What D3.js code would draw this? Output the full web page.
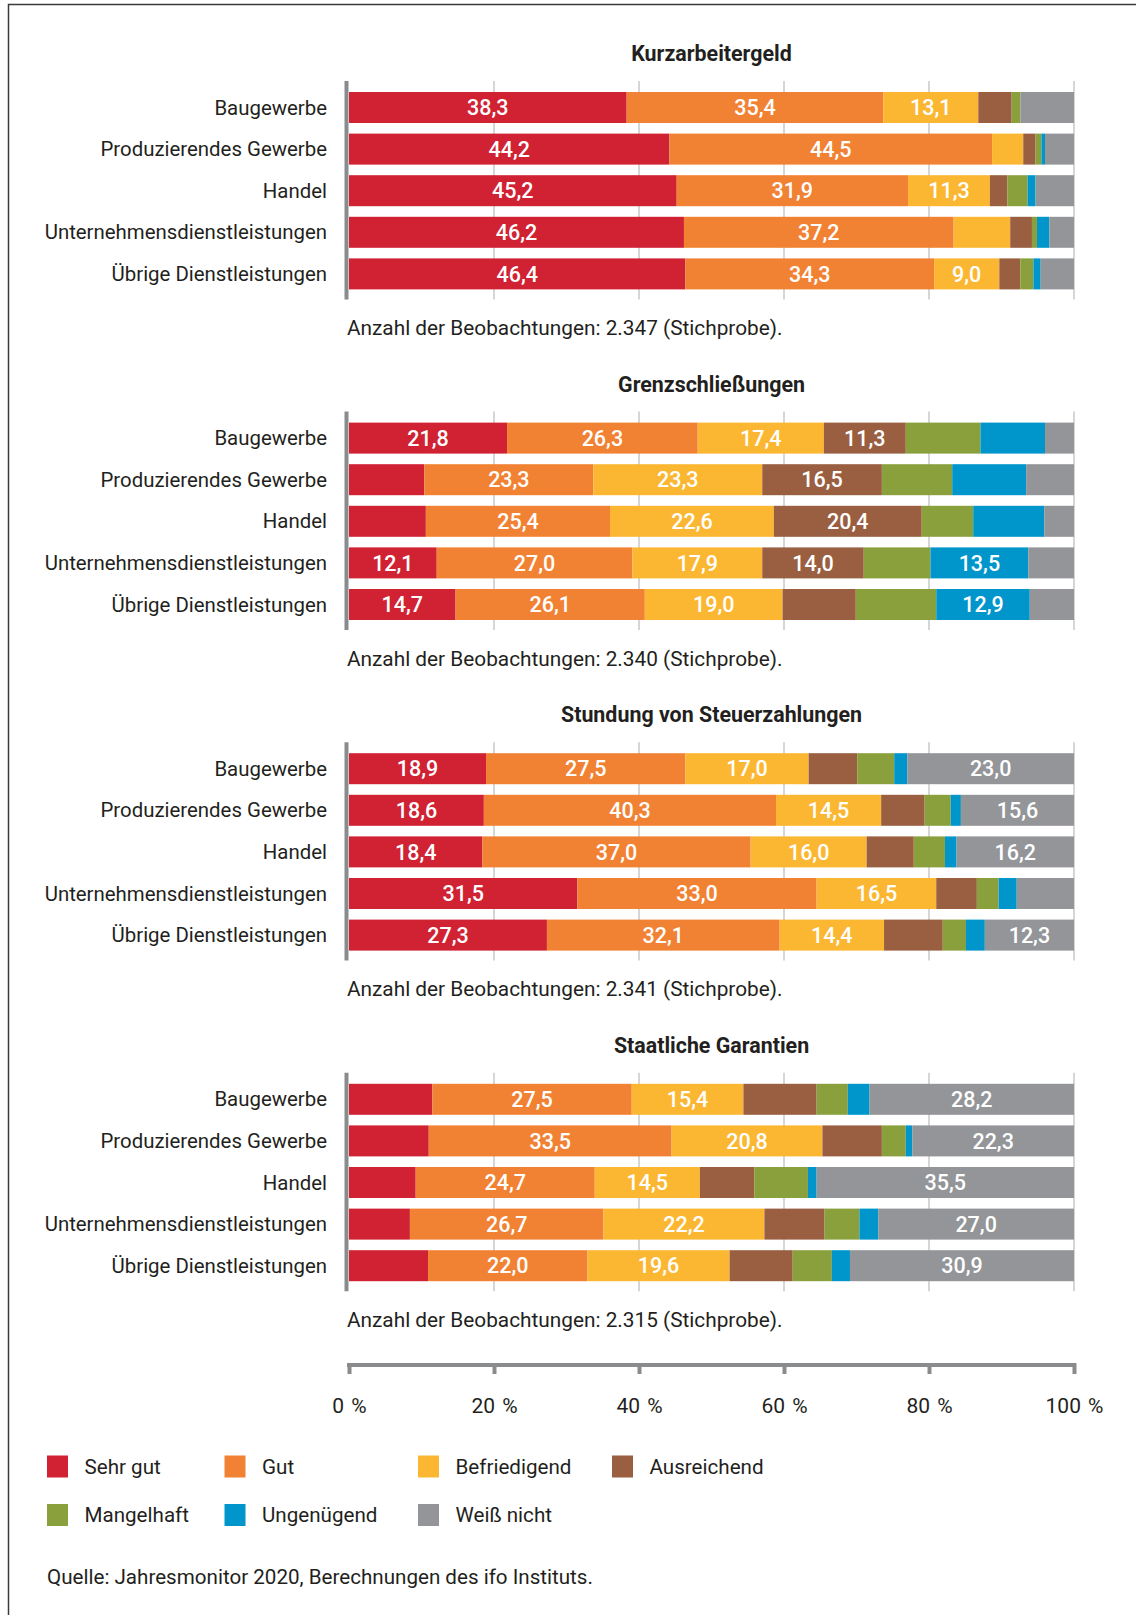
<!DOCTYPE html>
<html lang="de">
<head>
<meta charset="utf-8">
<script src="https://cdn.jsdelivr.net/npm/d3@7/dist/d3.min.js"></script>
<style>
  html, body { margin: 0; padding: 0; background: #fff; }
  svg { display: block; font-family: Roboto, "Noto Sans", sans-serif; }
</style>
</head>
<body>
<svg id="chart" width="1136" height="1615"></svg>
<script>
// ---- Data ---------------------------------------------------------------
const categories = [
  "Baugewerbe",
  "Produzierendes Gewerbe",
  "Handel",
  "Unternehmensdienstleistungen",
  "Übrige Dienstleistungen"
];
const ratings = ["Sehr gut", "Gut", "Befriedigend", "Ausreichend", "Mangelhaft", "Ungenügend", "Weiß nicht"];
const ratingColors = ["#d02233", "#f28233", "#fbb732", "#9a5f41", "#8aa03c", "#0096cc", "#939598"];

const panelTitles = ["Kurzarbeitergeld", "Grenzschließungen", "Stundung von Steuerzahlungen", "Staatliche Garantien"];
const panelObservations = ["2.347", "2.340", "2.341", "2.315"];

// Shares in percent per sector, in rating order
const kurzarbeitergeld = [
  [38.3, 35.4, 13.1, 4.6, 1.2, 0.0, 7.4],
  [44.2, 44.5, 4.3, 1.7, 0.8, 0.5, 4.0],
  [45.2, 31.9, 11.3, 2.4, 2.8, 1.1, 5.3],
  [46.2, 37.2, 7.8, 3.0, 0.7, 1.7, 3.4],
  [46.4, 34.3, 9.0, 2.9, 1.8, 1.0, 4.6]
];
const grenzschliessungen = [
  [21.8, 26.3, 17.4, 11.3, 10.3, 8.9, 4.0],
  [10.4, 23.3, 23.3, 16.5, 9.7, 10.2, 6.6],
  [10.6, 25.4, 22.6, 20.4, 7.1, 9.8, 4.1],
  [12.1, 27.0, 17.9, 14.0, 9.2, 13.5, 6.3],
  [14.7, 26.1, 19.0, 10.1, 11.1, 12.9, 6.1]
];
const stundung = [
  [18.9, 27.5, 17.0, 6.7, 5.1, 1.8, 23.0],
  [18.6, 40.3, 14.5, 6.0, 3.6, 1.4, 15.6],
  [18.4, 37.0, 16.0, 6.5, 4.3, 1.6, 16.2],
  [31.5, 33.0, 16.5, 5.6, 3.0, 2.5, 7.9],
  [27.3, 32.1, 14.4, 8.1, 3.2, 2.6, 12.3]
];
const garantien = [
  [11.5, 27.5, 15.4, 10.1, 4.3, 3.0, 28.2],
  [11.0, 33.5, 20.8, 8.2, 3.3, 0.9, 22.3],
  [9.2, 24.7, 14.5, 7.5, 7.4, 1.2, 35.5],
  [8.4, 26.7, 22.2, 8.3, 4.8, 2.6, 27.0],
  [10.9, 22.0, 19.6, 8.7, 5.4, 2.5, 30.9]
];

// Which segments carry a printed value (1 = labelled)
const kurzarbeitergeldLabels = [
  [1, 1, 1, 0, 0, 0, 0],
  [1, 1, 0, 0, 0, 0, 0],
  [1, 1, 1, 0, 0, 0, 0],
  [1, 1, 0, 0, 0, 0, 0],
  [1, 1, 1, 0, 0, 0, 0]
];
const grenzschliessungenLabels = [
  [1, 1, 1, 1, 0, 0, 0],
  [0, 1, 1, 1, 0, 0, 0],
  [0, 1, 1, 1, 0, 0, 0],
  [1, 1, 1, 1, 0, 1, 0],
  [1, 1, 1, 0, 0, 1, 0]
];
const stundungLabels = [
  [1, 1, 1, 0, 0, 0, 1],
  [1, 1, 1, 0, 0, 0, 1],
  [1, 1, 1, 0, 0, 0, 1],
  [1, 1, 1, 0, 0, 0, 0],
  [1, 1, 1, 0, 0, 0, 1]
];
const garantienLabels = [
  [0, 1, 1, 0, 0, 0, 1],
  [0, 1, 1, 0, 0, 0, 1],
  [0, 1, 1, 0, 0, 0, 1],
  [0, 1, 1, 0, 0, 0, 1],
  [0, 1, 1, 0, 0, 0, 1]
];

const tickValues = [0, 20, 40, 60, 80, 100];
const sourceText = "Quelle: Jahresmonitor 2020, Berechnungen des ifo Instituts.";

// ---- Layout -------------------------------------------------------------
const panels = [
  { title: panelTitles[0], obs: panelObservations[0], values: kurzarbeitergeld, labels: kurzarbeitergeldLabels },
  { title: panelTitles[1], obs: panelObservations[1], values: grenzschliessungen, labels: grenzschliessungenLabels },
  { title: panelTitles[2], obs: panelObservations[2], values: stundung, labels: stundungLabels },
  { title: panelTitles[3], obs: panelObservations[3], values: garantien, labels: garantienLabels }
];

const W = 1136, H = 1615;
const textColor = "#231f20";
const axisGray = "#8a8b8d";
const gridGray = "#d6d6d6";
const panelStep = 330.6;
const firstRowTop = 92;
const rowStep = 41.6;
const barH = 31;

const x = d3.scaleLinear().domain([0, 100]).range([349, 1074]);
const fmt = v => d3.format(".1f")(v).replace(".", ",");

const svg = d3.select("#chart");
svg.append("rect").attr("width", W).attr("height", H).attr("fill", "#fff");

// frame
svg.append("path")
  .attr("d", `M8.5,${H} V4.5 H${W}`)
  .attr("fill", "none").attr("stroke", "#3a3a3a").attr("stroke-width", 1.5);

panels.forEach((p, pi) => {
  const top = firstRowTop + pi * panelStep;
  const y = d3.scaleBand()
    .domain(categories)
    .range([top, top + 4 * rowStep + barH])
    .paddingInner((rowStep - barH) / rowStep)
    .paddingOuter(0);

  const g = svg.append("g");
  const yTop = top - 11, yBot = top + 4 * rowStep + barH + 10;

  // title
  g.append("text")
    .attr("x", (x(0) + x(100)) / 2)
    .attr("y", top - 38.5)
    .attr("dy", "0.35em")
    .attr("text-anchor", "middle")
    .attr("font-size", 21.4)
    .attr("font-weight", 700)
    .attr("fill", textColor)
    .text(p.title);

  // vertical gridlines
  g.selectAll("line.grid")
    .data(tickValues.slice(1))
    .join("line")
    .attr("x1", d => x(d)).attr("x2", d => x(d))
    .attr("y1", yTop).attr("y2", yBot)
    .attr("stroke", gridGray).attr("stroke-width", 2);

  // stacked segments
  const rows = p.values.map((vals, ri) => {
    let acc = 0;
    return vals.map((v, si) => {
      const seg = { cat: categories[ri], si, v, x0: acc, x1: acc + v, show: p.labels[ri][si] === 1 };
      acc += v;
      return seg;
    });
  });
  const segs = rows.flat();

  g.selectAll("rect.seg")
    .data(segs.filter(d => d.v > 0))
    .join("rect")
    .attr("x", d => x(d.x0))
    .attr("width", d => x(d.x1) - x(d.x0))
    .attr("y", d => y(d.cat))
    .attr("height", y.bandwidth())
    .attr("fill", d => ratingColors[d.si]);

  g.selectAll("text.val")
    .data(segs.filter(d => d.show))
    .join("text")
    .attr("x", d => (x(d.x0) + x(d.x1)) / 2)
    .attr("y", d => y(d.cat) + y.bandwidth() / 2)
    .attr("dy", "0.36em")
    .attr("text-anchor", "middle")
    .attr("font-size", 21.5)
    .attr("font-weight", 500)
    .attr("fill", "#fff")
    .text(d => fmt(d.v));

  // left axis line
  g.append("line")
    .attr("x1", 346.5).attr("x2", 346.5)
    .attr("y1", yTop).attr("y2", yBot)
    .attr("stroke", axisGray).attr("stroke-width", 4);

  // category labels
  g.selectAll("text.cat")
    .data(categories)
    .join("text")
    .attr("x", 327)
    .attr("y", d => y(d) + y.bandwidth() / 2)
    .attr("dy", "0.35em")
    .attr("text-anchor", "end")
    .attr("font-size", 20.4)
    .attr("fill", textColor)
    .text(d => d);

  // observation note
  g.append("text")
    .attr("x", 347)
    .attr("y", top + 4 * rowStep + barH + 38.5)
    .attr("dy", "0.35em")
    .attr("font-size", 20.8)
    .attr("fill", textColor)
    .text(`Anzahl der Beobachtungen: ${p.obs} (Stichprobe).`);
});

// ---- Bottom percentage axis ---------------------------------------------
const axisY = 1365;
const axis = d3.axisBottom(x)
  .tickValues(tickValues)
  .tickSize(9)
  .tickSizeOuter(0)
  .tickPadding(24)
  .tickFormat(d => d + "\u2004%");

const ax = svg.append("g")
  .attr("transform", `translate(0,${axisY})`)
  .call(axis);
ax.select(".domain").attr("stroke", axisGray).attr("stroke-width", 4)
  .attr("d", `M${x(0) - 2},0H${x(100) + 2}`);
ax.selectAll(".tick line").attr("stroke", axisGray).attr("stroke-width", 4).attr("y1", -2);
ax.selectAll(".tick text")
  .attr("font-family", "Roboto, 'Noto Sans', sans-serif")
  .attr("font-size", 21)
  .attr("fill", textColor);

// ---- Legend -------------------------------------------------------------
const legendCols = [47, 224.5, 418, 612];
const legendRows = [1466.5, 1515];
const legend = svg.append("g")
  .selectAll("g")
  .data(ratings)
  .join("g")
  .attr("transform", (d, i) => `translate(${legendCols[i % 4]},${legendRows[Math.floor(i / 4)]})`);
legend.append("rect")
  .attr("x", 0).attr("y", -11)
  .attr("width", 21).attr("height", 22)
  .attr("fill", (d, i) => ratingColors[i]);
legend.append("text")
  .attr("x", 37.5).attr("y", 0).attr("dy", "0.35em")
  .attr("font-size", 20.6)
  .attr("fill", textColor)
  .text(d => d);

// ---- Source -------------------------------------------------------------
svg.append("text")
  .attr("x", 47).attr("y", 1577).attr("dy", "0.35em")
  .attr("font-size", 20.6)
  .attr("fill", textColor)
  .text(sourceText);
</script>
</body>
</html>
